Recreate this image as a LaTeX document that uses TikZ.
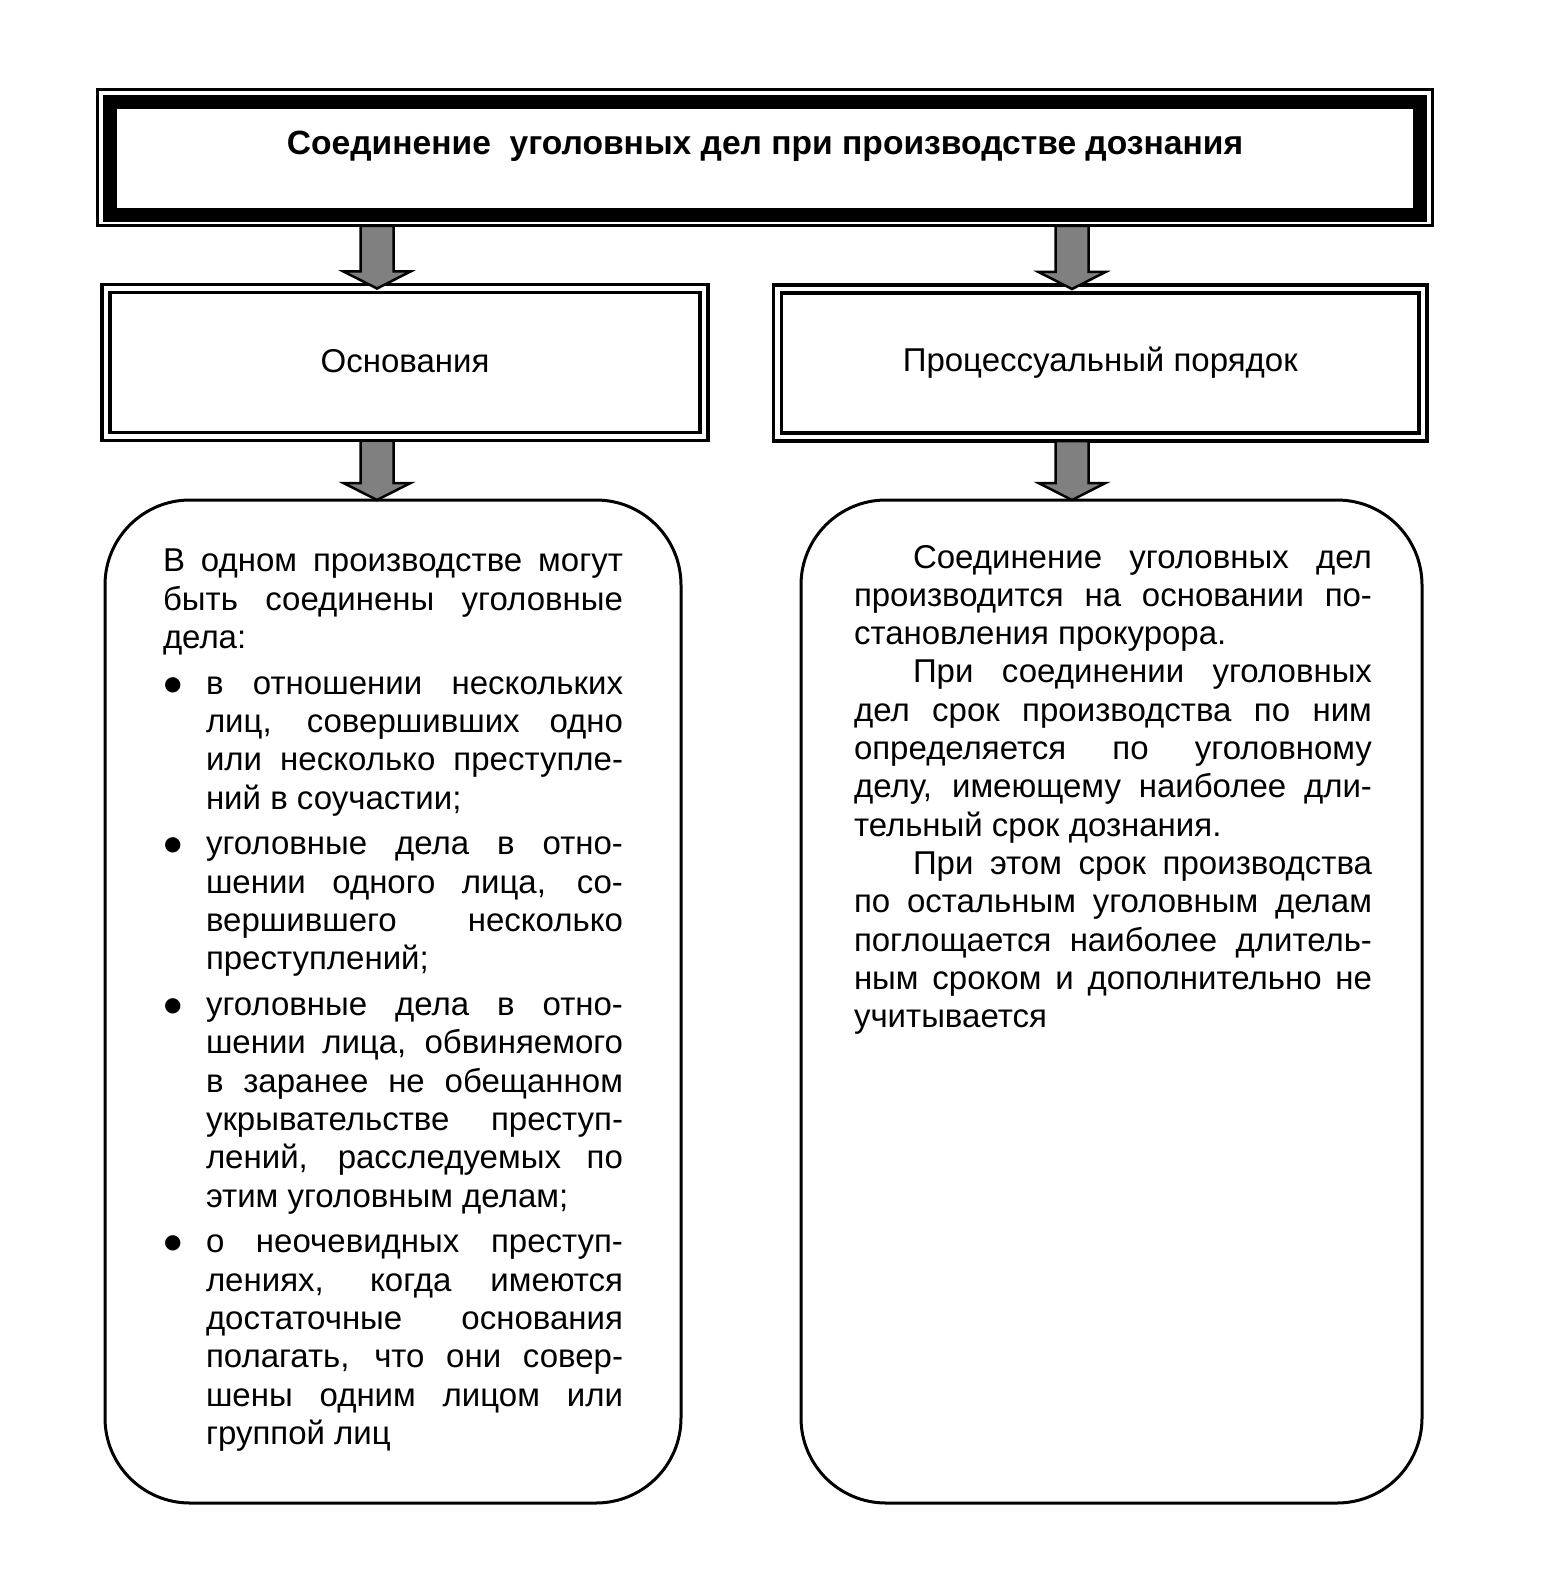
\documentclass[tikz,border=0pt]{standalone}
\usepackage{fontspec}
\setmainfont{Liberation Sans}
\newfontfamily\dejavu{DejaVu Sans}
\usetikzlibrary{calc}
% justified line, left line, indented justified line
\newcommand\natsp{\spaceskip=0pt\xspaceskip=0pt\relax}
\newcommand\jline[1]{\hbox to\hsize{\natsp #1}}
\newcommand\lline[1]{\hbox to\hsize{\natsp #1\hfil}}
\newcommand\iline[1]{\hbox to\hsize{\natsp\hskip59pt #1}}
\newcommand\bul{\raisebox{4pt}{\dejavu\fontsize{20}{20}\selectfont ●}}
\newcommand\bfirst[1]{\hbox to\hsize{\natsp\hbox to43pt{\hskip1pt\bul\hfil}\hbox to\dimexpr\hsize-43pt\relax{#1}}}
\newcommand\bmid[1]{\hbox to\hsize{\natsp\hskip43pt\hbox to\dimexpr\hsize-43pt\relax{#1}}}
\newcommand\blast[1]{\hbox to\hsize{\natsp\hskip43pt #1\hfil}}
\newcommand\blockarrow[2]{\draw[barrow] let \p1=(#1), \p2=(#2) in
  (\x1-16.5pt,\y1) -- (\x1-16.5pt,\y2+17pt) -- (\x1-33.5pt,\y2+17pt) -- (\x1,\y2)
  -- (\x1+33.5pt,\y2+17pt) -- (\x1+16.5pt,\y2+17pt) -- (\x1+16.5pt,\y1) -- cycle;}
\tikzset{
  thickbox/.style={draw, line width=14pt, outer sep=0pt, inner sep=0pt, line join=miter},
  dbox/.style={draw, double=white, double distance=4.5pt, line width=3.5pt, outer sep=0pt, inner sep=0pt,
    font=\fontsize{33}{38.3}\selectfont},
  rbox/.style={draw, line width=3pt, rounded corners=85pt, outer sep=0pt, inner sep=0pt},
  bodytext/.style={inner sep=0pt, outer sep=0pt, anchor=north west, font=\fontsize{33}{38.3}\selectfont},
  barrow/.style={draw=black, fill=black!50, line width=2.5pt, line join=miter},
}
\begin{document}
\begin{tikzpicture}[x=1pt,y=-1pt]
\useasboundingbox (0,0) rectangle (1548,1594);
% title box
\node[thickbox, minimum width=1310pt, minimum height=113pt, anchor=north west] (title) at (110,102) {};
\draw[line width=3pt] ([shift={(-13,-12)}]title.north west) rectangle ([shift={(12,11)}]title.south east);
\node[font=\bfseries\fontsize{33.6}{38}\selectfont, inner sep=0pt] (titletext) at (765,146)
  {Соединение\ \ уголовных дел при производстве дознания};
% second row
\node[dbox, minimum width=598pt, minimum height=148pt] (osn) at (405,362.5) {\raisebox{3pt}{Основания}};
\node[dbox, minimum width=645.5pt, minimum height=148pt] (proc) at (1100.25,363) {Процессуальный порядок};
% rounded boxes
\node[rbox, minimum width=576pt, minimum height=1003pt] (lbox) at (393,1001.5) {};
\node[rbox, minimum width=621pt, minimum height=1003pt] (rbox) at (1111.5,1001.5) {};
% arrows
\coordinate (ca) at (377,0);
\coordinate (cb) at (1072,0);
\coordinate (a1s) at ($(title.south -| ca)+(0,11)$);
\coordinate (a1e) at (osn.north -| ca);
\coordinate (a2s) at ($(title.south -| cb)+(0,11)$);
\coordinate (a2e) at (proc.north -| cb);
\coordinate (a3s) at ($(osn.south -| ca)+(0,4)$);
\coordinate (a3e) at (lbox.north -| ca);
\coordinate (a4s) at ($(proc.south -| cb)+(0,4)$);
\coordinate (a4e) at (rbox.north -| cb);
\blockarrow{a1s}{a1e}
\blockarrow{a2s}{a2e}
\blockarrow{a3s}{a3e}
\blockarrow{a4s}{a4e}
% left text
\node[bodytext, text width=460pt] (ltext) at (163,549) {%
\jline{В одном производстве могут}
\jline{быть соединены уголовные}
\lline{дела:}
\vskip7.5pt
\bfirst{в отношении нескольких}
\bmid{лиц, совершивших одно}
\bmid{или несколько преступле-}
\blast{ний в соучастии;}
\vskip7.5pt
\bfirst{уголовные дела в отно-}
\bmid{шении одного лица, со-}
\bmid{вершившего несколько}
\blast{преступлений;}
\vskip7.5pt
\bfirst{уголовные дела в отно-}
\bmid{шении лица, обвиняемого}
\bmid{в заранее не обещанном}
\bmid{укрывательстве преступ-}
\bmid{лений, расследуемых по}
\blast{этим уголовным делам;}
\vskip7.5pt
\bfirst{о неочевидных преступ-}
\bmid{лениях, когда имеются}
\bmid{достаточные основания}
\bmid{полагать, что они совер-}
\bmid{шены одним лицом или}
\blast{группой лиц}
};
% right text
\node[bodytext, text width=518pt] (rtext) at (854,545) {%
\iline{Соединение уголовных дел}
\jline{производится на основании по-}
\lline{становления прокурора.}
\iline{При соединении уголовных}
\jline{дел срок производства по ним}
\jline{определяется по уголовному}
\jline{делу, имеющему наиболее дли-}
\lline{тельный срок дознания.}
\iline{При этом срок производства}
\jline{по остальным уголовным делам}
\jline{поглощается наиболее длитель-}
\jline{ным сроком и дополнительно не}
\lline{учитывается}
};
\end{tikzpicture}
\end{document}
